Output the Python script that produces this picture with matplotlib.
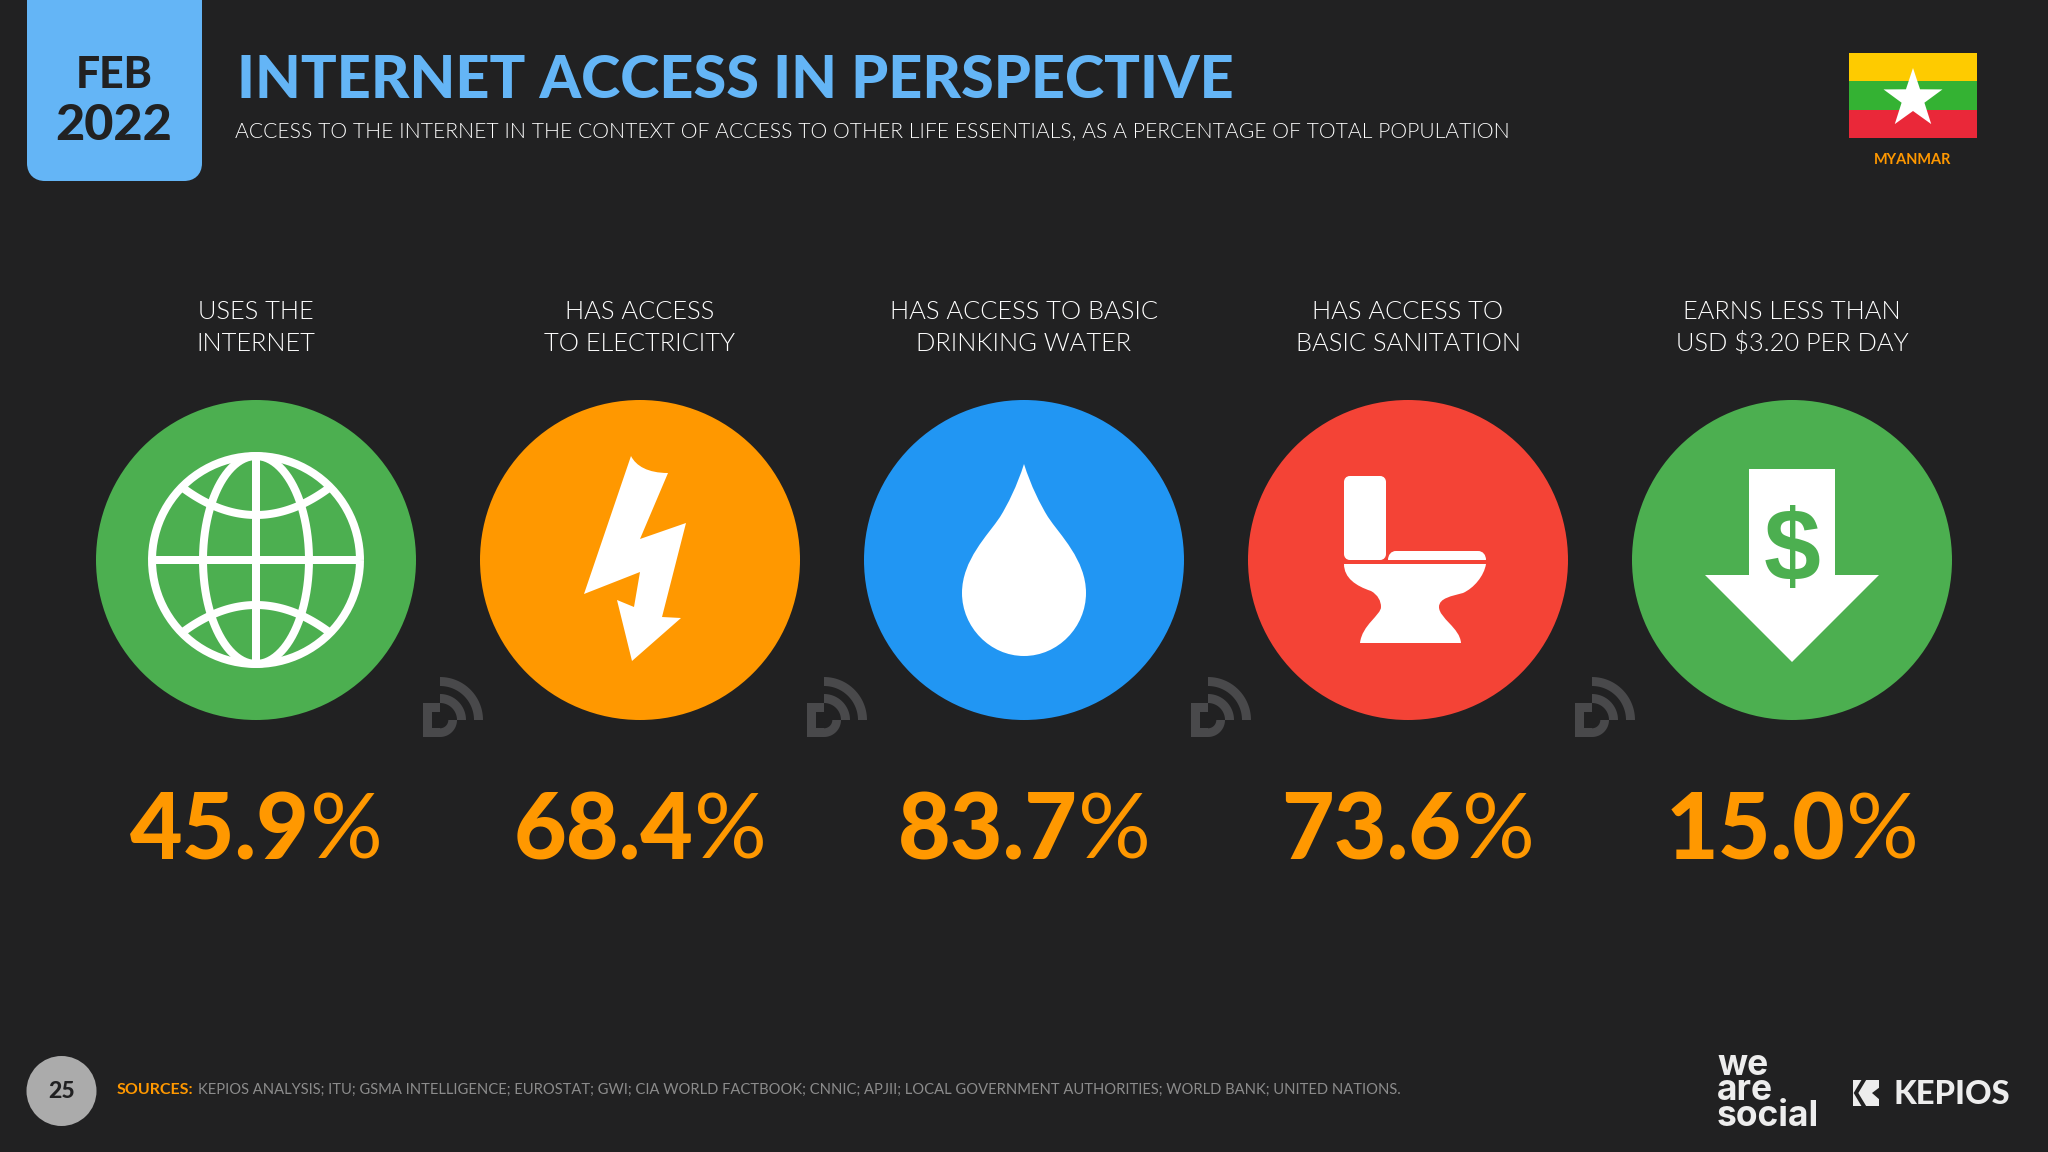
import os
import numpy as np
import matplotlib
matplotlib.use('Agg')
import matplotlib.pyplot as plt
from matplotlib import font_manager as fm
from matplotlib.patches import Circle, PathPatch, Polygon, Rectangle
from matplotlib.path import Path

# slide text and values
title = 'INTERNET ACCESS IN PERSPECTIVE'
subtitle = 'ACCESS TO THE INTERNET IN THE CONTEXT OF ACCESS TO OTHER LIFE ESSENTIALS, AS A PERCENTAGE OF TOTAL POPULATION'
categories = ['USES THE\nINTERNET', 'HAS ACCESS\nTO ELECTRICITY', 'HAS ACCESS TO BASIC\nDRINKING WATER',
              'HAS ACCESS TO\nBASIC SANITATION', 'EARNS LESS THAN\nUSD $3.20 PER DAY']
values = [45.9, 68.4, 83.7, 73.6, 15.0]
circle_colors = ['#4CAF50', '#FF9800', '#2196F3', '#F44336', '#4CAF50']
sources = 'KEPIOS ANALYSIS; ITU; GSMA INTELLIGENCE; EUROSTAT; GWI; CIA WORLD FACTBOOK; CNNIC; APJII; LOCAL GOVERNMENT AUTHORITIES; WORLD BANK; UNITED NATIONS.'

BG = '#212122'
BLUE = '#64B5F6'
ORANGE = '#FF9800'
M, C, L, Z = Path.MOVETO, Path.CURVE4, Path.LINETO, Path.CLOSEPOLY


def lato(style, fallback):
    # weight= alone picks Hairline for light, so go by the file name
    for f in fm.fontManager.ttflist:
        if f.name == 'Lato' and os.path.basename(f.fname).lower() == f'lato-{style}.ttf':
            return fm.FontProperties(fname=f.fname)
    return fm.FontProperties(family='Lato', weight=fallback)


LIGHT = lato('light', 'regular')
BLACK = lato('black', 'bold')
BOLD = fm.FontProperties(family='Lato', weight='bold')
REGULAR = fm.FontProperties(family='Lato', weight='regular')

fig = plt.figure(figsize=(20.48, 11.52), dpi=100, facecolor=BG)
ax = fig.add_axes([0, 0, 1, 1])
ax.set_xlim(0, 2048)
ax.set_ylim(1152, 0)
ax.axis('off')


def px(size):
    return size * 0.72


def text_w(t):
    return t.get_window_extent(fig.canvas.get_renderer()).width


def fit(t, width):
    # scale the font so the text gets the width it has in the slide
    t.set_fontsize(t.get_fontsize() * width / text_w(t))


def shape(cx, cy, segs, color, zorder=3):
    # segs: M (x,y) / L (x,y) / C (x1,y1,x2,y2,x,y) offsets from the icon centre
    verts, codes = [], []
    for s in segs:
        if s[0] == 'M':
            verts.append(s[1:]); codes.append(M)
        elif s[0] == 'L':
            verts.append(s[1:]); codes.append(L)
        elif s[0] == 'C':
            for i in (1, 3, 5):
                verts.append(s[i:i + 2]); codes.append(C)
        else:
            verts.append((0, 0)); codes.append(Z)
    verts = np.array(verts, dtype=float) + [cx, cy]
    ax.add_patch(PathPatch(Path(verts, codes), fc=color, ec='none', zorder=zorder))


def globe(cx, cy):
    w = px(8)
    kw = dict(color='white', lw=w, zorder=3, solid_capstyle='butt')
    t = np.linspace(0, 2 * np.pi, 200)
    ax.plot(cx + 104 * np.cos(t), cy + 104 * np.sin(t), **kw)
    ax.plot(cx + 53 * np.cos(t), cy + 104 * np.sin(t), **kw)
    ax.plot([cx - 104, cx + 104], [cy, cy], **kw)
    ax.plot([cx, cx], [cy - 104, cy + 104], **kw)
    u = np.linspace(-1, 1, 60)
    for side in (-1, 1):
        ax.plot(cx + 73 * u, cy + side * (45 + 27 * u ** 2), **kw)


def bolt(cx, cy):
    shape(cx, cy, [('M', -9, -104), ('C', -4, -94, 8, -87, 28, -87), ('L', 0, -21), ('L', 46, -37),
                   ('L', 22, 57), ('L', 41, 58), ('L', -8, 101), ('L', -23, 40), ('L', -6, 47),
                   ('L', 0, 12), ('L', -56, 34), ('Z',)], 'white')


def drop(cx, cy):
    shape(cx, cy, [('M', 0, -96), ('C', 7, -74, 16, -56, 24, -43), ('C', 36, -25, 62, 0, 62, 33),
                   ('C', 62, 67, 34, 96, 0, 96), ('C', -34, 96, -62, 67, -62, 33),
                   ('C', -62, 0, -36, -25, -24, -43), ('C', -16, -56, -7, -74, 0, -96), ('Z',)], 'white')


def toilet(cx, cy):
    shape(cx, cy, [('M', -58, -84), ('L', -28, -84), ('C', -24, -84, -22, -81, -22, -78), ('L', -22, -6),
                   ('C', -22, -3, -24, 0, -28, 0), ('L', -58, 0), ('C', -62, 0, -64, -3, -64, -6),
                   ('L', -64, -78), ('C', -64, -81, -62, -84, -58, -84), ('Z',)], 'white')
    shape(cx, cy, [('M', -20, 0), ('C', -20, -5, -17, -9, -12, -9), ('L', 70, -9), ('C', 75, -9, 78, -5, 78, 0),
                   ('Z',)], 'white')
    shape(cx, cy, [('M', -64, 4), ('C', -64, 18, -52, 26, -37, 31), ('C', -30, 35, -27, 41, -27, 47),
                   ('C', -27, 55, -46, 65, -48, 83), ('L', 53, 83), ('C', 52, 68, 31, 58, 31, 47),
                   ('C', 31, 38, 44, 36, 55, 33), ('C', 66, 28, 76, 16, 78, 4), ('Z',)], 'white')


def down_arrow(cx, cy):
    shape(cx, cy, [('M', -43, -91), ('L', 43, -91), ('L', 43, 15), ('L', 87, 15), ('L', 0, 102),
                   ('L', -87, 15), ('L', -43, 15), ('Z',)], 'white')
    ax.text(cx, cy - 7, '$', color=circle_colors[4], family='Liberation Sans', weight='bold', fontsize=px(102),
            ha='center', va='center', zorder=4)


def watermark(x0, y0):
    col = '#49494b'
    a = np.linspace(-np.pi / 2, 0, 30)
    cx, cy = x0 + 25, y0 + 50
    for r1, r2 in ((34, 43), (17, 26)):
        pts = np.r_[np.c_[cx + r2 * np.cos(a), cy + r2 * np.sin(a)],
                    np.c_[cx + r1 * np.cos(a[::-1]), cy + r1 * np.sin(a[::-1])]]
        ax.add_patch(Polygon(pts, fc=col, ec='none', zorder=2))
    b = np.linspace(0, np.pi / 2, 30)
    pts = np.r_[np.c_[cx + 17 * np.cos(b), cy + 17 * np.sin(b)],
                np.c_[cx + 8.3 * np.cos(b[::-1]), cy + 8.3 * np.sin(b[::-1])]]
    ax.add_patch(Polygon(pts, fc=col, ec='none', zorder=2))
    ax.add_patch(Rectangle((x0 + 8, y0 + 33), 17, 8.7, fc=col, ec='none', zorder=2))
    ax.add_patch(Rectangle((x0 + 8, y0 + 58.3), 17, 8.7, fc=col, ec='none', zorder=2))
    ax.add_patch(Rectangle((x0 + 8, y0 + 33), 8.7, 34, fc=col, ec='none', zorder=2))


# date box, rounded at the bottom only
shape(0, 0, [('M', 27, -5), ('L', 202, -5), ('L', 202, 163), ('C', 202, 175, 194, 181, 184, 181), ('L', 45, 181),
             ('C', 35, 181, 27, 175, 27, 163), ('Z',)], BLUE)
t = ax.text(114.5, 75, 'FEB', color=BG, fontproperties=BLACK, fontsize=px(47), ha='center', va='center')
fit(t, 77)
t = ax.text(114, 125, '2022', color=BG, fontproperties=BLACK, fontsize=px(49), ha='center', va='center')
fit(t, 117)

t = ax.text(237, 80, title, color=BLUE, fontproperties=BLACK, fontsize=px(62), ha='left', va='center')
fit(t, 998)
t = ax.text(235, 131, subtitle, color='white', fontproperties=LIGHT, fontsize=px(25), ha='left', va='center')
fit(t, 1273)

# flag
flag_colors = ['#FECB00', '#34B233', '#EA2839']
for i, col in enumerate(flag_colors):
    ax.add_patch(Rectangle((1849, 53 + i * 28.4), 128, 28.4, fc=col, ec='none'))
ang = -np.pi / 2 + np.arange(10) * np.pi / 5
rad = np.where(np.arange(10) % 2 == 0, 31, 12)
ax.add_patch(Polygon(np.c_[1913 + rad * np.cos(ang), 99 + rad * np.sin(ang)], fc='white', ec='none', zorder=3))
t = ax.text(1913, 160, 'MYANMAR', color=ORANGE, fontproperties=BOLD, fontsize=px(15), ha='center', va='center')
fit(t, 78)

# the five columns
centers = [256 + 384 * i for i in range(5)]
icons = [globe, bolt, drop, toilet, down_arrow]
for i, cx in enumerate(centers):
    ax.add_patch(Circle((cx, 560), 160, fc=circle_colors[i], ec='none', zorder=1))
    icons[i](cx, 560)
    ax.text(cx, 328, categories[i], color='white', fontproperties=LIGHT, fontsize=px(25.5),
            ha='center', va='center', linespacing=1.38)
    if i < 4:
        watermark(cx + 159, 670)
    num = ax.text(cx, 833, f'{values[i]:.1f}', color=ORANGE, fontproperties=BLACK, fontsize=px(91),
                  ha='left', va='center')
    pct = ax.text(cx, 833, '%', color=ORANGE, fontproperties=REGULAR, fontsize=px(91),
                  ha='left', va='center')
    w1, w2 = text_w(num), text_w(pct)
    num.set_x(cx - (w1 + w2) / 2)
    pct.set_x(cx - (w1 + w2) / 2 + w1)

# footer
ax.add_patch(Circle((61.5, 1091), 35, fc='#ABABAB', ec='none'))
ax.text(61.5, 1092, '25', color=BG, fontproperties=BLACK, fontsize=px(23), ha='center', va='center')
s1 = ax.text(117, 1090, 'SOURCES:', color=ORANGE, fontproperties=BOLD, fontsize=px(16), ha='left', va='center')
fit(s1, 77)
s2 = ax.text(198, 1090, sources, color='#8C8C8C', fontproperties=REGULAR, fontsize=px(16), ha='left', va='center')
fit(s2, 1210)

# logos
logo = '#EDEDED'
logo_font = fm.FontProperties(family='Inter', weight='bold')
t = ax.text(1717, 1091, 'we\nare\nsocial', color=logo, fontproperties=logo_font, fontsize=px(35),
            ha='left', va='center', linespacing=0.72)
fit(t, 102)
ax.add_patch(Rectangle((1853, 1080), 26, 26, fc=logo, ec='none'))
ax.plot([1865, 1856, 1865], [1078, 1093, 1108], color=BG, lw=px(4), solid_joinstyle='miter')
ax.add_patch(Polygon([(1880, 1087), (1872, 1093), (1880, 1100)], fc=BG, ec='none'))
t = ax.text(1893, 1094, 'KEPIOS', color=logo, fontproperties=BLACK, fontsize=px(34), ha='left', va='center')
fit(t, 117)

fig.savefig('out.png', dpi=100, facecolor=BG)
